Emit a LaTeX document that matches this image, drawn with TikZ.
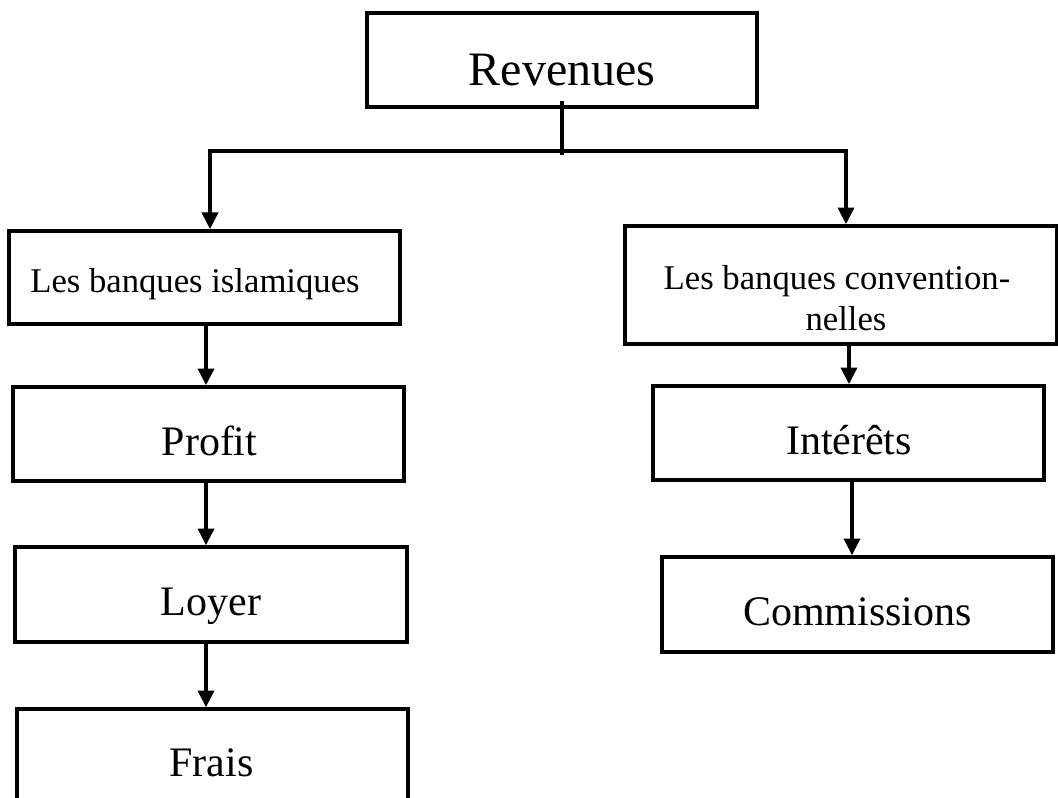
\documentclass[tikz,border=0pt]{standalone}
\usepackage{fontspec}
\setmainfont{Liberation Serif}
\usetikzlibrary{arrows.meta}

\begin{document}
\begin{tikzpicture}[
  x=0.75pt, y=-0.75pt,
  box/.style={draw=black, line width=2.7pt, rectangle, inner sep=0pt},
  lbl/.style={anchor=base, inner sep=0pt},
  big/.style={font=\fontsize{36}{43}\selectfont},
  mid/.style={font=\fontsize{31.5}{38}\selectfont},
  small/.style={font=\fontsize{26}{31}\selectfont},
  conn/.style={line width=2.7pt},
  arr/.style={line width=2.7pt, -{Triangle[width=12pt,length=12.5pt]}}
]
\path[use as bounding box] (0,0) rectangle (1058,798);
\clip (0,0) rectangle (1058,798);

% boxes
\node[box, minimum width=292.5pt, minimum height=70.5pt] (rev)  at (562,60) {};
\node[box, minimum width=293.2pt, minimum height=69.8pt] (isl)  at (204.5,277.5) {};
\node[box, minimum width=324pt,   minimum height=88.5pt] (conv) at (841,285) {};
\node[box, minimum width=293.2pt, minimum height=70.5pt] (prof) at (208.5,434) {};
\node[box, minimum width=294pt,   minimum height=71.2pt] (loy)  at (211,594.5) {};
\node[box, minimum width=293.2pt, minimum height=71.2pt] (fra)  at (212.5,756.5) {};
\node[box, minimum width=293.2pt, minimum height=70.5pt] (intr) at (848.5,433) {};
\node[box, minimum width=293.2pt, minimum height=71.2pt] (com)  at (857.5,604.5) {};

% labels
\node[lbl, big] (revT)  at (562,86) {Revenues};
\node[lbl, small] (islT) at (195,293) {Les banques islamiques};
\node[lbl, small] (convA) at (837,290) {Les banques convention-};
\node[lbl, small] (convB) at (846,331) {nelles};
\node[lbl, mid] (profT) at (209.5,456) {Profit};
\node[lbl, mid] (loyT)  at (211,616) {Loyer};
\node[lbl, mid] (fraT)  at (211.5,777) {Frais};
\node[lbl, mid] (intrT) at (849,455) {Intérêts};
\node[lbl, mid] (comT)  at (857.5,626) {Commissions};

% branching from the top box
\coordinate (hub) at (562,151);
\coordinate (hl) at (210,151);
\coordinate (hr) at (846,151);
\draw[conn] ([yshift=6pt]rev.south) -- ([yshift=-3pt]hub);
\draw[arr] (hub) -- (hl) -- (hl |- isl.north);
\draw[arr] (hub) -- (hr) -- (hr |- conv.north);

% left column
\draw[arr] (isl.south -| 206,0) -- (prof.north -| 206,0);
\draw[arr] (prof.south -| 206,0) -- (loy.north -| 206,0);
\draw[arr] (loy.south -| 206,0) -- (fra.north -| 206,0);

% right column
\draw[arr] (conv.south -| 849,0) -- (intr.north -| 849,0);
\draw[arr] ([yshift=2pt]intr.south -| 852,0) -- (com.north -| 852,0);
\end{tikzpicture}
\end{document}
